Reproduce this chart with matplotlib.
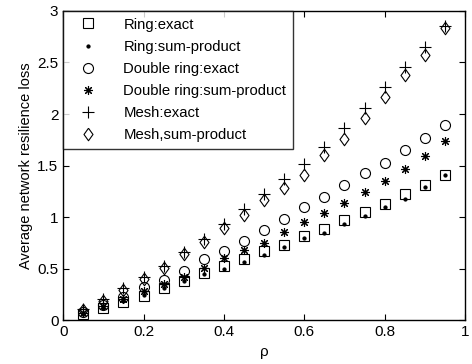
import matplotlib
matplotlib.use("Agg")
import matplotlib.pyplot as plt

plt.rcParams['font.family'] = ['Liberation Sans', 'DejaVu Sans']

rho = [0.05, 0.10, 0.15, 0.20, 0.25, 0.30, 0.35, 0.40, 0.45, 0.50,
       0.55, 0.60, 0.65, 0.70, 0.75, 0.80, 0.85, 0.90, 0.95]

ring_exact = [0.06, 0.12, 0.18, 0.24, 0.31, 0.38, 0.46, 0.53, 0.59, 0.67,
              0.73, 0.82, 0.89, 0.97, 1.05, 1.13, 1.22, 1.31, 1.41]
ring_sp = [0.07, 0.12, 0.19, 0.25, 0.31, 0.38, 0.45, 0.50, 0.57, 0.63,
           0.71, 0.80, 0.85, 0.93, 1.01, 1.10, 1.18, 1.29, 1.41]
dring_exact = [0.08, 0.15, 0.23, 0.32, 0.39, 0.48, 0.59, 0.67, 0.77, 0.88,
               0.98, 1.10, 1.20, 1.31, 1.43, 1.53, 1.65, 1.77, 1.89]
dring_sp = [0.07, 0.14, 0.21, 0.28, 0.35, 0.42, 0.51, 0.60, 0.68, 0.75,
            0.86, 0.95, 1.04, 1.14, 1.24, 1.35, 1.47, 1.59, 1.74]
mesh_exact = [0.11, 0.21, 0.31, 0.42, 0.53, 0.66, 0.79, 0.93, 1.08, 1.22,
              1.37, 1.52, 1.68, 1.86, 2.06, 2.26, 2.46, 2.65, 2.85]
mesh_sp = [0.10, 0.19, 0.29, 0.40, 0.51, 0.64, 0.76, 0.90, 1.02, 1.17,
           1.28, 1.41, 1.60, 1.76, 1.96, 2.17, 2.38, 2.57, 2.83]

# taller-than-wide diamond, like the matlab one
diamond = [(0, 1), (0.72, 0), (0, -1), (-0.72, 0), (0, 1)]

fig = plt.figure(figsize=(4.72, 3.64), dpi=100)
ax = fig.add_axes([0.134, 0.12, 0.851, 0.85])

kw = dict(linestyle='none', color='black', markeredgewidth=0.8)
ax.plot(rho, ring_exact, marker='s', markersize=6.8, fillstyle='none', label='Ring:exact', **kw)
ax.plot(rho, ring_sp, marker='.', markersize=4.5, label='Ring:sum-product', **kw)
ax.plot(rho, dring_exact, marker='o', markersize=7.2, fillstyle='none', label='Double ring:exact', **kw)
ax.plot(rho, dring_sp, marker=(8, 2, 0), markersize=6.5, label='Double ring:sum-product', **kw)
ax.plot(rho, mesh_exact, marker='+', markersize=9, label='Mesh:exact', **kw)
ax.plot(rho, mesh_sp, marker=diamond, markersize=9, fillstyle='none',
        label='Mesh,sum-product', linestyle='none', color='black',
        markerfacecolor='none', markeredgewidth=0.8)

ax.set_xlim(0, 1)
ax.set_ylim(0, 3)
ax.set_xticks([0, 0.2, 0.4, 0.6, 0.8, 1])
ax.set_xticklabels(['0', '0.2', '0.4', '0.6', '0.8', '1'])
ax.set_yticks([0, 0.5, 1, 1.5, 2, 2.5, 3])
ax.set_yticklabels(['0', '0.5', '1', '1.5', '2', '2.5', '3'])
ax.tick_params(direction='in', top=True, right=True, labelsize=11, length=4, width=0.8)
for s in ax.spines.values():
    s.set_linewidth(1.0)

ax.set_xlabel('\u03c1', fontsize=11)
ax.set_ylabel('Average network resilience loss', fontsize=10.5, labelpad=3)

leg = ax.legend(loc='upper left', fontsize=10.7, frameon=True, fancybox=False,
                edgecolor='black', borderaxespad=0, labelspacing=0.55,
                handletextpad=1.2, borderpad=0.45, handlelength=2.4)
leg.get_frame().set_linewidth(1.0)

fig.savefig('out.png', dpi=100)
